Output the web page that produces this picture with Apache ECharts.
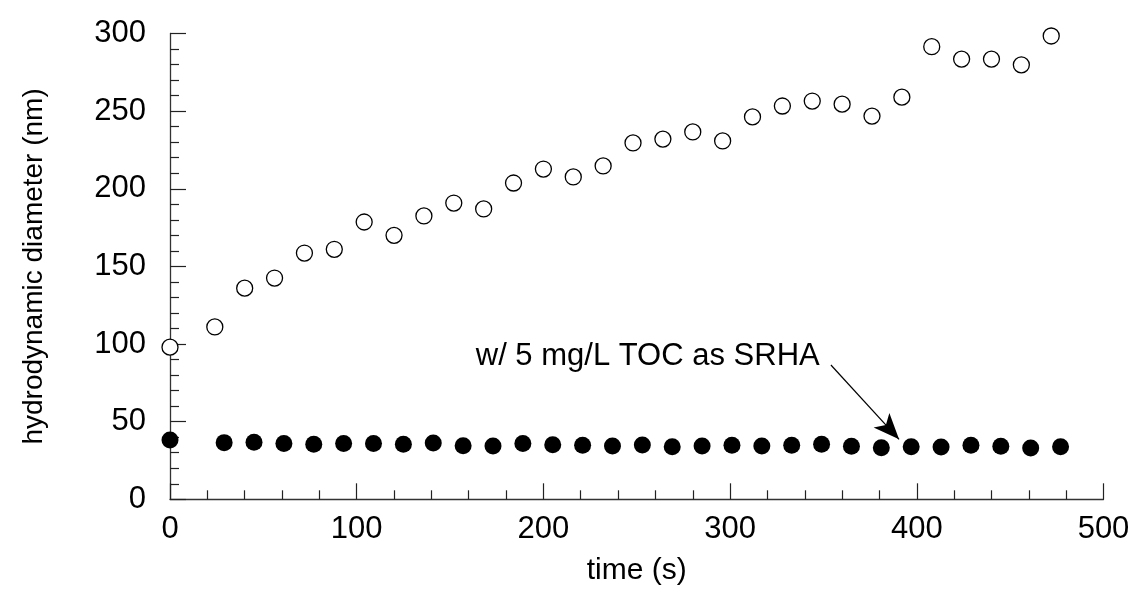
<!DOCTYPE html>
<html>
<head>
<meta charset="utf-8">
<script src="https://cdn.jsdelivr.net/npm/echarts@6/dist/echarts.min.js"></script>
<style>
  * { margin: 0; padding: 0; box-sizing: border-box; }
  html, body { width: 1135px; height: 589px; background: #fff; }
  #chart { width: 1135px; height: 589px; }
</style>
</head>
<body>
<div id="chart"></div>
<script>
  // no SRHA (open circles)
  const timeOpen = [0, 24, 40, 56, 72, 88, 104, 120, 136, 152, 168, 184, 200, 216, 232,
    248, 264, 280, 296, 312, 328, 344, 360, 376, 392, 408, 424, 440, 456, 472];
  const diamOpen = [98, 111, 136, 142.5, 158.6, 161, 178.6, 170, 182.5, 190.8, 187, 203.7, 212.7, 207.6, 214.7,
    229.5, 232, 236.6, 230.8, 246.3, 253.3, 256.5, 254.5, 246.8, 259, 291.5, 283.5, 283.5, 279.8, 298.4];

  // w/ 5 mg/L TOC as SRHA (filled circles)
  const timeFilled = [0, 29, 45, 61, 77, 93, 109, 125, 141, 157, 173, 189, 205, 221, 237,
    253, 269, 285, 301, 317, 333, 349, 365, 381, 397, 413, 429, 445, 461, 477];
  const diamFilled = [38.2, 36.5, 36.7, 36, 35.5, 36, 36, 35.4, 36.2, 34.5, 34.3, 36, 35.2, 34.8, 34.3,
    35, 33.9, 34.3, 34.8, 34.3, 34.8, 35.4, 34.1, 33.2, 33.9, 33.7, 34.8, 34.1, 33, 33.9];

  const annotationText = 'w/ 5 mg/L TOC as SRHA';
  const arrowFrom = [354, 86.5];
  const arrowTo = [390.5, 38.6];
  const labelAt = [348, 92];

  const font = 'Liberation Sans, Arial, sans-serif';
  const myChart = echarts.init(document.getElementById('chart'));

  const axisCommon = {
    axisLine: { show: true, lineStyle: { color: '#333', width: 1.3 } },
    axisTick: { show: true, inside: true, length: 16, lineStyle: { color: '#222', width: 1.2 } },
    minorTick: { show: true, splitNumber: 5, length: 9, lineStyle: { color: '#222', width: 1.2 } },
    splitLine: { show: false },
    axisLabel: { color: '#000', fontSize: 31, fontFamily: font },
    nameTextStyle: { color: '#000', fontSize: 28, fontFamily: font },
    nameLocation: 'middle'
  };

  const option = {
    animation: false,
    backgroundColor: '#fff',
    grid: { left: 170, right: 31.5, top: 33.5, bottom: 89.7, containLabel: false, outerBoundsMode: 'none' },
    xAxis: Object.assign({}, axisCommon, {
      type: 'value', min: 0, max: 500, interval: 100,
      name: 'time (s)', nameGap: 56,
      nameTextStyle: { color: '#000', fontSize: 30, fontFamily: font },
      axisLabel: Object.assign({}, axisCommon.axisLabel, { margin: 15 })
    }),
    yAxis: Object.assign({}, axisCommon, {
      type: 'value', min: 0, max: 300, interval: 50,
      name: 'hydrodynamic diameter (nm)', nameGap: 122,
      axisLabel: Object.assign({}, axisCommon.axisLabel, { margin: 24, padding: [0, 0, 12, 0] })
    }),
    series: [
      {
        name: 'control',
        type: 'scatter',
        symbol: 'circle',
        symbolSize: 16,
        itemStyle: { color: '#fff', borderColor: '#000', borderWidth: 1.3, opacity: 1 },
        data: timeOpen.map((t, i) => [t, diamOpen[i]])
      },
      {
        name: 'SRHA',
        type: 'scatter',
        symbol: 'circle',
        symbolSize: 17,
        itemStyle: { color: '#000', opacity: 1 },
        data: timeFilled.map((t, i) => [t, diamFilled[i]]),
        markLine: {
          silent: true,
          symbol: ['none', 'arrow'],
          symbolSize: [16, 26],
          label: { show: false },
          lineStyle: { color: '#000', width: 1.2, type: 'solid', opacity: 1 },
          data: [[{ coord: arrowFrom }, { coord: arrowTo }]]
        },
        markPoint: {
          silent: true,
          symbol: 'circle',
          symbolSize: 0,
          label: {
            show: true, position: 'left', distance: 0,
            formatter: annotationText,
            color: '#000', fontSize: 31, fontFamily: font
          },
          data: [{ coord: labelAt }]
        }
      }
    ]
  };

  myChart.setOption(option);
</script>
</body>
</html>
